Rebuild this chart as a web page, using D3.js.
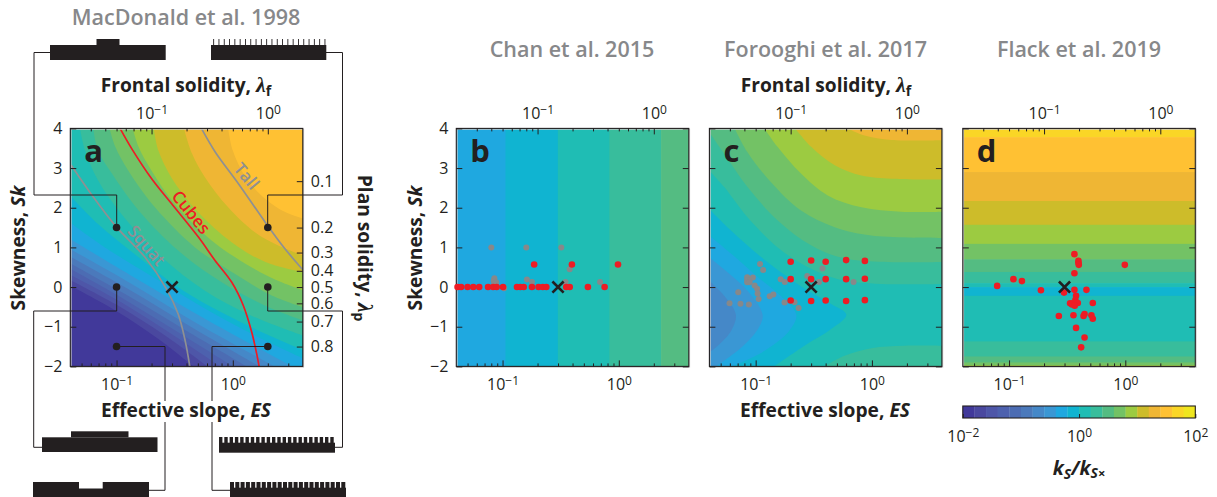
<!DOCTYPE html>
<html>
<head>
<meta charset="utf-8">
<script src="https://cdn.jsdelivr.net/npm/d3@7"></script>
<style>
    body { margin: 0; background: #fff; }
    text { font-family: "Open Sans", sans-serif; fill: #231f20; }
    .title { font-size: 21.5px; font-weight: 600; fill: #87888a; }
    .axis_title { font-size: 19.2px; font-weight: 700; }
    .tick text { font-size: 16px; fill: #231f20; font-family: "Open Sans", sans-serif; }
    .tick line { stroke: #231f20; stroke-width: 1; }
    .domain { display: none; }
    .letter { font-size: 31px; font-weight: 700; }
    .lam { font-family: "Liberation Serif", serif; font-style: italic; font-weight: 700; }
    .connector { fill: none; stroke: #231f20; stroke-width: 1; }
</style>
</head>
<body>
<svg id="fig" width="1217" height="497"></svg>
<script>
var panel_w = 232.5;
var panel_h = 238;
var panel_y = 128.4;

// k_s/k_sx colour levels, bottom of the colour bar to the top
var level_colors = ["#41399a", "#4a489f", "#4e56a8", "#4d61ae", "#4c6cb3", "#4b79bb", "#4588c8", "#3a97d4",
    "#1fa8e0", "#10b4d1", "#1fbdb4", "#38bd9c", "#54bc82", "#73c265", "#9ccb41", "#cdbc2a",
    "#efb634", "#ffc133", "#fad626", "#efe61f"];

var sk_ticks = [4, 3, 2, 1, 0, -1, -2];
var plan_labels = ["0.1", "0.2", "0.3", "0.4", "0.5", "0.6", "0.7", "0.8"];
var plan_sk = [2.67, 1.5, 0.87, 0.41, 0, -0.41, -0.87, -1.5];
var es_major = [0.1, 1];
var es_minor = [0.05, 0.06, 0.07, 0.08, 0.09, 0.2, 0.3, 0.4, 0.5, 0.6, 0.7, 0.8, 0.9, 2, 3];
var lf_major = [0.1, 1];
var lf_minor = [0.03, 0.04, 0.05, 0.06, 0.07, 0.08, 0.09, 0.2, 0.3, 0.4, 0.5, 0.6, 0.7, 0.8, 0.9];

// Contours are [log10(ES), Sk]; each one paints the level that lies beyond it.
var contours_a = [
    [1, [[-1.40,0.04],[-1.01,-0.59],[-0.64,-1.31],[-0.34,-2]]],
    [2, [[-1.40,0.18],[-1.01,-0.43],[-0.58,-1.23],[-0.22,-2]]],
    [3, [[-1.40,0.31],[-0.985,-0.34],[-0.53,-1.18],[-0.11,-2]]],
    [4, [[-1.40,0.46],[-0.96,-0.26],[-0.47,-1.14],[0,-2]]],
    [5, [[-1.40,0.60],[-0.93,-0.17],[-0.41,-1.08],[0.12,-2]]],
    [6, [[-1.40,0.77],[-0.90,-0.05],[-0.35,-1.02],[0.23,-2]]],
    [7, [[-1.40,0.96],[-0.87,0.08],[-0.30,-0.93],[0.36,-2]]],
    [8, [[-1.40,1.21],[-0.84,0.23],[-0.24,-0.80],[0.51,-2]]],
    [9, [[-1.40,1.63],[-1.10,1.0],[-0.73,0.33],[-0.18,-0.64],[0.28,-1.35],[0.61,-1.81]]],
    [10, [[-1.40,2.31],[-1.16,1.59],[-0.81,0.75],[-0.47,-0.01],[-0.07,-0.68],[0.28,-1.18],[0.61,-1.60]]],
    [11, [[-1.315,4],[-1.27,3.44],[-1.16,2.69],[-0.96,1.85],[-0.61,0.75],[-0.24,-0.09],[0.16,-0.72],[0.61,-1.23]]],
    [12, [[-1.20,4],[-1.16,3.44],[-1.04,2.86],[-0.81,1.93],[-0.47,0.92],[-0.095,0.12],[0.28,-0.47],[0.61,-0.85]]],
    [13, [[-1.06,4],[-1.01,3.53],[-0.90,2.94],[-0.67,2.01],[-0.325,1.0],[0.02,0.33],[0.335,-0.21],[0.61,-0.51]]],
    [14, [[-0.86,4],[-0.81,3.53],[-0.70,2.94],[-0.50,2.10],[-0.18,1.17],[0.16,0.50],[0.42,0.12],[0.61,-0.09]]],
    [15, [[-0.68,4],[-0.64,3.44],[-0.53,2.77],[-0.30,1.89],[-0.01,1.13],[0.28,0.63],[0.61,0.37]]],
    [16, [[-0.42,4],[-0.35,3.36],[-0.24,2.77],[-0.04,2.01],[0.19,1.38],[0.39,1.05],[0.61,0.79]]],
    [17, [[-0.04,4],[0,3.44],[0.11,2.77],[0.28,2.22],[0.45,1.89],[0.61,1.72]]]
];

var contours_c = [
    [11, [[-1.40,2.94],[-1.27,2.52],[-1.07,1.76],[-0.81,1.0],[-0.55,0.50],[-0.29,0.20],[0.08,0.08],[0.61,0.08]]],
    [12, [[-1.40,3.91],[-1.27,3.36],[-1.07,2.52],[-0.81,1.68],[-0.52,1.05],[-0.21,0.71],[0.61,0.63]]],
    [13, [[-1.18,4],[-1.07,3.40],[-0.87,2.65],[-0.61,1.93],[-0.32,1.51],[-0.005,1.30],[0.61,1.24]]],
    [14, [[-0.924,4],[-0.81,3.53],[-0.61,2.86],[-0.38,2.31],[-0.09,2.01],[0.25,1.90],[0.61,1.90]]],
    [15, [[-0.66,4],[-0.52,3.53],[-0.32,3.07],[-0.09,2.81],[0.167,2.73],[0.61,2.71]]],
    [16, [[-0.206,4],[-0.063,3.82],[0.167,3.71],[0.61,3.70]]]
];
// These open towards the left edge
var contours_c_low = [
    [9, [[-1.40,1.97],[-1.21,1.42],[-0.95,0.75],[-0.64,0.08],[-0.35,-0.43],[-0.22,-0.70],[-0.35,-1.06],[-0.58,-1.48],[-0.84,-2]]],
    [8, [[-1.40,1.30],[-1.21,0.84],[-0.98,0.25],[-0.77,-0.26],[-0.65,-0.70],[-0.71,-1.10],[-0.92,-1.60],[-1.20,-2]]],
    [7, [[-1.40,0.75],[-1.24,0.37],[-1.07,-0.09],[-0.94,-0.70],[-0.98,-1.06],[-1.12,-1.52],[-1.34,-2]]],
    [6, [[-1.40,0.16],[-1.27,-0.22],[-1.17,-0.70],[-1.21,-1.10],[-1.325,-1.48],[-1.40,-1.65]]]
];
var contour_c_corner = [[-0.41,-2],[-0.235,-1.73],[-0.005,-1.54],[0.28,-1.48],[0.61,-1.48]];

var b_edges = [0.04, 0.106, 0.299, 0.83, 2.31, 4];
var b_levels = [8, 9, 10, 11, 12];
var d_edges = [4, 3.78, 2.90, 2.17, 1.57, 1.09, 0.70, 0.38, 0.10, 0, -0.22, -1.37, -1.75, -1.90, -1.97, -2];
var d_levels = [18, 17, 16, 15, 14, 13, 12, 11, 10, 9, 10, 11, 12, 13, 14];

// Reference morphologies of panel a, as [log10(ES), Sk]
var squat_line = [[-1.39,3.07],[-1.21,2.31],[-1.0,1.51],[-0.755,0.75],[-0.57,-0.05],[-0.47,-0.68],[-0.41,-1.35],[-0.37,-2]];
var cubes_line = [[-0.97,4],[-0.87,3.49],[-0.698,2.73],[-0.526,2.10],[-0.296,1.26],[-0.153,0.67],[-0.009,0.12],[0.091,-0.47],[0.163,-1.14],[0.206,-1.69],[0.226,-2]];
var tall_line = [[-0.27,4],[-0.15,3.40],[0.05,2.6],[0.28,1.63],[0.45,0.96],[0.61,0.41]];
var shape_es = [0.1, 2, 0.1, 2, 0.1, 2];
var shape_sk = [1.5, 1.5, 0, 0, -1.5, -1.5];

var b_red_es = [0.041,0.044,0.050,0.056,0.063,0.075,0.083,0.089,0.101,0.133,0.142,0.152,0.179,0.204,0.222,0.238,0.353,0.378,0.542,0.755,0.187,0.395,0.984];
var b_red_sk = [0,0,0,0,0,0,0,0,0,0,0,0,0,0,0,0,0,0,0,0,0.57,0.57,0.57];
var b_gray_es = [0.080,0.16,0.32,0.085,0.084,0.088,0.085,0.103,0.162,0.179,0.348,0.378,0.69];
var b_gray_sk = [1,1,1,0.22,0.16,0.12,0.09,-0.03,0.19,0.13,0.13,0.45,0.13];

var c_red_es = [0.2,0.3,0.4,0.6,0.87,0.2,0.3,0.4,0.6,0.87,0.2,0.3,0.4,0.6,0.87];
var c_red_sk = [0.64,0.67,0.64,0.68,0.66,0.2,0.2,0.2,0.2,0.21,-0.34,-0.35,-0.34,-0.35,-0.33];
var c_gray_es = [0.109,0.116,0.0845,0.0946,0.0845,0.0885,0.0845,0.0885,0.098,0.103,0.104,0.106,0.0708,0.0596,0.074,0.0874,0.132,0.142,0.164,0.178,0.177,0.216,0.234,0.278,0.376,0.35,0.695];
var c_gray_sk = [0.58,0.43,0.25,0.24,0.18,0.16,0.12,0.12,0.04,-0.04,-0.16,-0.30,-0.13,-0.41,-0.42,-0.44,-0.23,-0.19,0.2,0.13,-0.39,-0.38,-0.53,0.28,0.47,0.13,0.13];

var d_red_es = [0.365,0.395,0.395,0.398,0.99,0.365,0.109,0.129,0.079,0.188,0.297,0.365,0.463,0.377,0.372,0.335,0.358,0.39,0.348,0.367,0.525,0.268,0.358,0.446,0.437,0.511,0.525,0.377,0.446,0.417];
var d_red_sk = [0.83,0.66,0.61,0.56,0.56,0.35,0.20,0.15,0.03,-0.08,-0.14,-0.07,-0.07,-0.22,-0.33,-0.41,-0.40,-0.40,-0.44,-0.47,-0.40,-0.73,-0.71,-0.68,-0.73,-0.71,-0.80,-1.03,-1.27,-1.52];

var svg = d3.select("#fig");

var x = d3.scaleLog().domain([0.04, 4]).range([0, panel_w]);
var x_top = d3.scaleLog().domain([0.02, 2]).range([0, panel_w]);
var y = d3.scaleLinear().domain([-2, 4]).range([panel_h, 0]);

function xLog(le) { return x(Math.pow(10, le)); }

var contourLine = d3.line()
    .x(function(d) { return xLog(d[0]); })
    .y(function(d) { return y(d[1]); })
    .curve(d3.curveCatmullRom);

// side "up" closes over the top right, "left" over the left edge, "down" over the bottom right
function contourPath(pts, side) {
    var first = pts[0], last = pts[pts.length - 1];
    var path = contourLine(pts);
    if (side == "up") {
        if (last[1] == -2) path += "L" + panel_w + "," + panel_h;
        path += "L" + panel_w + ",0";
        if (first[1] != 4) path += "L0,0";
    }
    else if (side == "left") {
        if (last[1] == -2) path += "L0," + panel_h;
    }
    else {
        path += "L" + panel_w + "," + panel_h;
    }
    return path + "Z";
}

function addPanel(name, left) {
    var g = svg.append("g").attr("transform", "translate(" + left + "," + panel_y + ")");
    svg.append("clipPath").attr("id", "clip_" + name).append("rect")
        .attr("width", panel_w).attr("height", panel_h);
    var map = g.append("g").attr("clip-path", "url(#clip_" + name + ")");
    return { g: g, map: map };
}

function fillBase(panel, level) {
    panel.map.append("rect")
        .attr("width", panel_w).attr("height", panel_h)
        .attr("fill", level_colors[level]);
}

function fillContours(panel, list, side) {
    panel.map.selectAll(".c_" + side).data(list).enter().append("path")
        .attr("class", "c_" + side)
        .attr("d", function(d) { return contourPath(d[1], side); })
        .attr("fill", function(d) { return level_colors[d[0]]; });
}

function addPowerLabels(sel) {
    sel.selectAll(".tick text").each(function(d) {
        var t = d3.select(this).text("10");
        t.append("tspan")
            .attr("dy", "-0.42em")
            .attr("font-size", "12px")
            .text(d3.format("d")(Math.log10(d)));
    });
}

function addFrameAxes(panel, has_left_labels, has_plan) {
    var g = panel.g;

    // Shadow and frame.
    g.append("rect").attr("x", 0.8).attr("y", 0.8).attr("width", panel_w).attr("height", panel_h)
        .attr("fill", "none").attr("stroke", "#c9c9c9").attr("stroke-width", 1);
    g.append("rect").attr("width", panel_w).attr("height", panel_h)
        .attr("fill", "none").attr("stroke", "#231f20").attr("stroke-width", 1.1);

    var left_axis = d3.axisLeft(y).tickValues(sk_ticks).tickSizeInner(-6).tickSizeOuter(0).tickPadding(8);
    left_axis.tickFormat(has_left_labels ? d3.format("d") : "");
    g.append("g").call(left_axis);

    if (has_plan) {
        g.append("g").attr("transform", "translate(" + panel_w + ",0)")
            .call(d3.axisRight(y).tickValues(plan_sk)
                .tickFormat(function(d, i) { return plan_labels[i]; })
                .tickSizeInner(-6).tickSizeOuter(0).tickPadding(8));
    }
    else {
        g.append("g").attr("transform", "translate(" + panel_w + ",0)")
            .call(d3.axisRight(y).tickValues(sk_ticks).tickFormat("").tickSizeInner(-6).tickSizeOuter(0));
    }

    // Bottom, effective slope.
    g.append("g").attr("transform", "translate(0," + panel_h + ")")
        .call(d3.axisBottom(x).tickValues(es_minor).tickFormat("").tickSizeInner(-3).tickSizeOuter(0));
    g.append("g").attr("transform", "translate(0," + panel_h + ")")
        .call(d3.axisBottom(x).tickValues(es_major).tickSizeInner(-6).tickSizeOuter(0).tickPadding(12.5))
        .call(addPowerLabels);

    // Top, frontal solidity.
    g.append("g")
        .call(d3.axisTop(x_top).tickValues(lf_minor).tickFormat("").tickSizeInner(-3).tickSizeOuter(0));
    g.append("g")
        .call(d3.axisTop(x_top).tickValues(lf_major).tickSizeInner(-6).tickSizeOuter(0).tickPadding(9))
        .call(addPowerLabels);
}

function addDots(panel, es, sk, color, r) {
    panel.g.selectAll(".dot_" + color.slice(1)).data(es).enter().append("circle")
        .attr("class", "dot_" + color.slice(1))
        .attr("cx", function(d) { return x(d); })
        .attr("cy", function(d, i) { return y(sk[i]); })
        .attr("r", r)
        .attr("fill", color);
}

function addCross(panel) {
    panel.g.append("path")
        .attr("d", "M-5.6,-5.6L5.6,5.6M-5.6,5.6L5.6,-5.6")
        .attr("transform", "translate(" + x(0.3) + "," + y(0) + ")")
        .attr("fill", "none").attr("stroke", "#231f20").attr("stroke-width", 2.6);
}

function addLetter(panel, letter) {
    panel.g.append("text").attr("class", "letter")
        .attr("x", 14).attr("y", 33.5).text(letter);
}

// Panel a
var panel_a = addPanel("a", 70.3);
fillBase(panel_a, 0);
fillContours(panel_a, contours_a, "up");
var morph_line = [[squat_line, "#8f9092"], [cubes_line, "#ed1c24"], [tall_line, "#8f9092"]];
morph_line.forEach(function(m) {
    panel_a.map.append("path").attr("d", contourLine(m[0]))
        .attr("fill", "none").attr("stroke", m[1]).attr("stroke-width", 1.7);
});

// Panel b, a little overlap so that no seams show between the bands
var panel_b = addPanel("b", 456.3);
panel_b.map.selectAll("rect").data(b_levels).enter().append("rect")
    .attr("x", function(d, i) { return x(b_edges[i]); })
    .attr("width", function(d, i) { return x(b_edges[i + 1]) - x(b_edges[i]) + 0.6; })
    .attr("height", panel_h)
    .attr("fill", function(d) { return level_colors[d]; });

// Panel c
var panel_c = addPanel("c", 709.4);
fillBase(panel_c, 10);
fillContours(panel_c, contours_c, "up");
fillContours(panel_c, contours_c_low, "left");
panel_c.map.append("path")
    .attr("d", contourPath(contour_c_corner, "down"))
    .attr("fill", level_colors[11]);

// Panel d
var panel_d = addPanel("d", 962.8);
panel_d.map.selectAll("rect").data(d_levels).enter().append("rect")
    .attr("y", function(d, i) { return y(d_edges[i]); })
    .attr("width", panel_w)
    .attr("height", function(d, i) { return y(d_edges[i + 1]) - y(d_edges[i]) + 0.6; })
    .attr("fill", function(d) { return level_colors[d]; });

// Shape sketches and their leaders go under the frames.
var leaders = [
    [[50,52.5],[34,52.5],[34,195],[116.7,195],[116.7,228]],
    [[326,52.5],[342.5,52.5],[342.5,195],[267.7,195],[267.7,228]],
    [[116.7,287],[116.7,311],[33.7,311],[33.7,447.3],[42,447.3]],
    [[267.7,287],[267.7,311],[342.5,311],[342.5,447.3],[335,447.3]],
    [[116.7,346.5],[165,346.5],[165,490.3],[149,490.3]],
    [[267.7,346.5],[212,346.5],[212,490.3],[230,490.3]]
];

addFrameAxes(panel_a, true, true);
addFrameAxes(panel_b, true, false);
addFrameAxes(panel_c, false, false);
addFrameAxes(panel_d, false, false);

svg.selectAll(".connector").data(leaders).enter().append("path")
    .attr("class", "connector")
    .attr("d", d3.line());

var bar = svg.append("g");
function block(px, py, w, h, color) {
    bar.append("rect").attr("x", px).attr("y", py).attr("width", w).attr("height", h)
        .attr("fill", color || "#231f20");
}
block(50, 45, 115.7, 15);
block(96.5, 39, 23, 6);
block(211, 45, 115.3, 15);
d3.range(22).forEach(function(i) { block(213.2 + i * 5.3, 39, 0.9, 6); });
block(42, 437.3, 115.5, 14.7);
block(71, 431.3, 57.5, 6);
block(219, 442.7, 116, 10);
d3.range(22).forEach(function(i) { block(219 + i * 5.3, 437, 3.4, 6); });
block(33, 482, 116, 15);
block(79, 482, 23.7, 6.5, "#fff");
block(230, 487.7, 116, 9.3);
d3.range(22).forEach(function(i) { block(230 + i * 5.3, 482, 4, 6); });

// Dots, crosses and letters.
panel_a.g.selectAll(".shape_dot").data(shape_es).enter().append("circle")
    .attr("cx", function(d) { return x(d); })
    .attr("cy", function(d, i) { return y(shape_sk[i]); })
    .attr("r", 3.8)
    .attr("fill", "#231f20");
addCross(panel_a);

addDots(panel_b, b_gray_es, b_gray_sk, "#87888a", 3);
addDots(panel_b, b_red_es, b_red_sk, "#ed1c24", 3.3);
addCross(panel_b);

addDots(panel_c, c_gray_es, c_gray_sk, "#87888a", 3);
addDots(panel_c, c_red_es, c_red_sk, "#ed1c24", 3.3);
addCross(panel_c);

addDots(panel_d, d_red_es, d_red_sk, "#ed1c24", 3.3);
addCross(panel_d);

addLetter(panel_a, "a");
addLetter(panel_b, "b");
addLetter(panel_c, "c");
addLetter(panel_d, "d");

// Line names in panel a.
function lineName(label, px, py, angle, color) {
    svg.append("text")
        .attr("transform", "translate(" + px + "," + py + ") rotate(" + angle + ")")
        .attr("text-anchor", "middle")
        .attr("font-size", "17px")
        .attr("font-weight", 600)
        .style("fill", color)
        .text(label);
}
lineName("Tall", 242, 180, 50, "#8f9092");
lineName("Cubes", 186.5, 216, 51, "#ed1c24");
lineName("Squat", 142, 249.5, 49, "#8f9092");

// Titles.
function title(label, px, py) {
    svg.append("text").attr("class", "title")
        .attr("x", px).attr("y", py).attr("text-anchor", "middle").text(label);
}
title("MacDonald et al. 1998", 186, 25);
title("Chan et al. 2015", 572, 57);
title("Forooghi et al. 2017", 825.5, 57);
title("Flack et al. 2019", 1079, 57);

function frontalTitle(px, py) {
    var t = svg.append("text").attr("class", "axis_title")
        .attr("x", px).attr("y", py).attr("text-anchor", "middle");
    t.append("tspan").text("Frontal solidity, ");
    t.append("tspan").attr("class", "lam").attr("font-size", "22px").text("\u03bb");
    t.append("tspan").attr("dy", "0.25em").attr("font-size", "14px").text("f");
}
frontalTitle(186, 92);
frontalTitle(826, 92);

function slopeTitle(px, py) {
    svg.append("rect").attr("x", px - 86).attr("y", py - 16).attr("width", 172).attr("height", 21).attr("fill", "#fff");
    var t = svg.append("text").attr("class", "axis_title")
        .attr("x", px).attr("y", py).attr("text-anchor", "middle");
    t.append("tspan").text("Effective slope, ");
    t.append("tspan").attr("font-style", "italic").text("ES");
}
slopeTitle(186, 417);
slopeTitle(825, 417);

function skewTitle(px) {
    var t = svg.append("text").attr("class", "axis_title")
        .attr("transform", "translate(" + px + ",248) rotate(-90)")
        .attr("text-anchor", "middle");
    t.append("tspan").text("Skewness, ");
    t.append("tspan").attr("font-style", "italic").text("Sk");
}
skewTitle(25);
skewTitle(421.5);

var plan_title = svg.append("text").attr("class", "axis_title")
    .attr("transform", "translate(357.5,248) rotate(90)")
    .attr("text-anchor", "middle");
plan_title.append("tspan").text("Plan solidity, ");
plan_title.append("tspan").attr("class", "lam").attr("font-size", "22px").text("\u03bb");
plan_title.append("tspan").attr("dy", "0.25em").attr("font-size", "14px").text("p");

// Colour bar.
var bar_x = d3.scaleLinear().domain([0, level_colors.length]).range([962.8, 1195.3]);
var bar_axis = d3.scaleLog().domain([0.01, 100]).range([962.8, 1195.3]);
var bar_y = 406;
var bar_h = 12;
var bar_g = svg.append("g");
bar_g.selectAll("rect").data(level_colors).enter().append("rect")
    .attr("x", function(d, i) { return bar_x(i); })
    .attr("y", bar_y)
    .attr("width", function(d, i) { return bar_x(i + 1) - bar_x(i) + 0.3; })
    .attr("height", bar_h)
    .attr("fill", function(d) { return d; });
bar_g.append("rect").attr("x", 962.8).attr("y", bar_y).attr("width", 232.5).attr("height", bar_h)
    .attr("fill", "none").attr("stroke", "#231f20").attr("stroke-width", 1.1);
bar_g.append("g").attr("transform", "translate(0," + (bar_y + bar_h) + ")")
    .call(d3.axisBottom(bar_axis).tickValues([0.01, 1, 100]).tickSizeInner(-4).tickSizeOuter(0).tickPadding(12.5))
    .call(addPowerLabels);

var ratio = svg.append("text").attr("x", 1079).attr("y", 475)
    .attr("text-anchor", "middle").attr("font-size", "19.5px").attr("font-weight", 700).attr("font-style", "italic");
ratio.append("tspan").text("k");
ratio.append("tspan").attr("dy", "0.25em").attr("font-size", "14px").text("S");
ratio.append("tspan").attr("dy", "-0.18em").attr("font-size", "19.5px").text("/k");
ratio.append("tspan").attr("dy", "0.25em").attr("font-size", "14px").text("S");
ratio.append("tspan").attr("font-size", "13px").attr("font-style", "normal").text("\u00d7");
</script>
</body>
</html>
